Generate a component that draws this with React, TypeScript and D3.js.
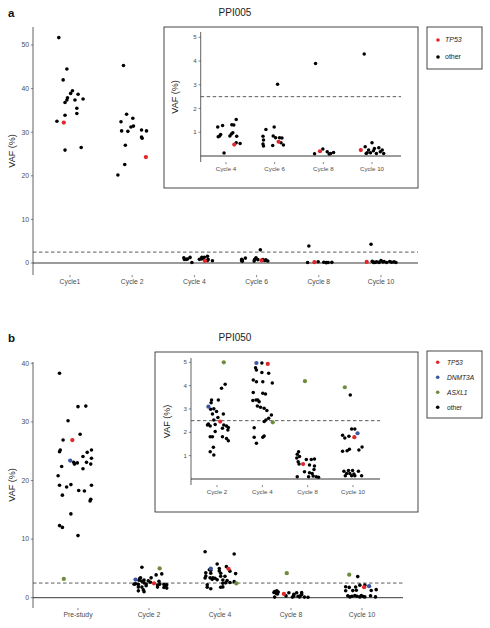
import React from "react";
import * as d3 from "d3";

// ---------- data ----------
// each point: [VAF %, horizontal jitter as fraction of category step, gene]
type Pt = [number, number, string];

const GENES = ["TP53", "DNMT3A", "ASXL1", "other"];
const GENE_COLORS: Record<string, string> = {
  TP53: "#e3262b",
  DNMT3A: "#3b54a3",
  ASXL1: "#6e8c3c",
  other: "#000000",
};

// ---- PPI005 ----
const A_TITLE = "PPI005";
const A_CATS = ["Cycle1", "Cycle 2", "Cycle 4", "Cycle 6", "Cycle 8", "Cycle 10"];
const A_INSET_CATS = ["Cycle 4", "Cycle 6", "Cycle 8", "Cycle 10"];
const A_Y_TICKS = [0, 10, 20, 30, 40, 50];
const A_INSET_Y_TICKS = [1, 2, 3, 4, 5];
const A_LEGEND = ["TP53", "other"];

const A_CYCLE1: Pt[] = [
  [51.7, -0.18, "other"], [44.5, -0.05, "other"], [42.0, -0.11, "other"], [39.5, 0.04, "other"],
  [38.9, 0.01, "other"], [38.7, 0.13, "other"], [37.6, 0.21, "other"], [37.9, -0.04, "other"],
  [37.4, -0.05, "other"], [37.4, 0.08, "other"], [36.8, -0.08, "other"], [35.5, 0.11, "other"],
  [34.3, 0.11, "other"], [33.9, -0.08, "other"], [32.5, -0.21, "other"], [32.2, -0.1, "TP53"],
  [26.5, 0.18, "other"], [25.9, -0.08, "other"],
];
const A_CYCLE2: Pt[] = [
  [45.3, -0.14, "other"], [34.1, -0.09, "other"], [33.2, 0.01, "other"], [32.4, -0.18, "other"],
  [31.2, -0.02, "other"], [31.4, 0.02, "other"], [30.3, -0.17, "other"], [30.2, -0.07, "other"],
  [30.5, 0.15, "other"], [30.3, 0.23, "other"], [28.9, 0.15, "other"], [28.6, 0.16, "other"],
  [27.0, -0.11, "other"], [22.6, -0.12, "other"], [24.3, 0.22, "TP53"], [20.2, -0.23, "other"],
];
const A_CYCLE4: Pt[] = [
  [1.22, -0.17, "other"], [1.29, -0.07, "other"], [1.54, 0.21, "other"], [1.32, 0.12, "other"],
  [1.31, 0.16, "other"], [0.84, -0.13, "other"], [0.81, -0.16, "other"], [0.91, -0.11, "other"],
  [0.84, 0.08, "other"], [0.93, 0.11, "other"], [0.98, 0.14, "other"], [0.83, 0.22, "other"],
  [0.56, 0.21, "other"], [0.53, 0.29, "other"], [0.48, 0.17, "TP53"], [0.13, -0.04, "other"],
];
const A_CYCLE6: Pt[] = [
  [3.02, 0.06, "other"], [1.12, -0.18, "other"], [1.22, -0.01, "other"], [0.83, -0.24, "other"],
  [0.67, -0.23, "other"], [0.51, -0.24, "other"], [0.42, -0.23, "other"], [0.84, -0.03, "other"],
  [0.77, 0.02, "other"], [0.77, 0.1, "other"], [0.76, 0.15, "other"], [0.6, 0.08, "TP53"],
  [0.44, -0.04, "other"], [0.56, 0.13, "other"], [0.46, 0.18, "other"],
];
const A_CYCLE8: Pt[] = [
  [3.9, -0.16, "other"], [0.1, -0.18, "other"], [0.2, -0.07, "TP53"], [0.29, -0.01, "other"],
  [0.18, 0.08, "other"], [0.11, 0.15, "other"], [0.15, 0.21, "other"], [0.08, 0.12, "other"],
];
const A_CYCLE10: Pt[] = [
  [4.3, -0.16, "other"], [0.56, 0.0, "other"], [0.25, -0.23, "TP53"], [0.39, -0.14, "other"],
  [0.25, -0.07, "other"], [0.14, -0.03, "other"], [0.22, 0.03, "other"], [0.11, 0.09, "other"],
  [0.35, 0.14, "other"], [0.25, 0.21, "other"], [0.11, 0.24, "other"], [0.14, -0.1, "other"],
  [0.18, 0.17, "other"], [0.32, 0.05, "other"], [0.11, -0.12, "other"],
];
const A_DATA: Pt[][] = [A_CYCLE1, A_CYCLE2, A_CYCLE4, A_CYCLE6, A_CYCLE8, A_CYCLE10];

// ---- PPI050 ----
const B_TITLE = "PPI050";
const B_CATS = ["Pre-study", "Cycle 2", "Cycle 4", "Cycle 8", "Cycle 10"];
const B_INSET_CATS = ["Cycle 2", "Cycle 4", "Cycle 8", "Cycle 10"];
const B_Y_TICKS = [0, 10, 20, 30, 40];
const B_INSET_Y_TICKS = [1, 2, 3, 4, 5];
const B_LEGEND = ["TP53", "DNMT3A", "ASXL1", "other"];

const B_PRE: Pt[] = [
  [38.3, -0.26, "other"], [30.2, -0.14, "other"], [32.6, 0.0, "other"], [32.7, 0.11, "other"],
  [26.9, -0.21, "other"], [26.9, -0.08, "TP53"], [27.9, 0.03, "other"], [25.2, -0.25, "other"],
  [24.9, -0.26, "other"], [25.2, 0.19, "other"], [24.8, 0.13, "other"], [22.4, -0.23, "other"],
  [23.4, -0.11, "DNMT3A"], [23.1, -0.06, "other"], [23.0, -0.01, "other"], [24.1, 0.07, "other"],
  [23.1, 0.12, "other"], [23.8, 0.19, "other"], [22.8, 0.18, "other"], [22.0, 0.07, "other"],
  [22.8, -0.05, "other"], [20.8, -0.28, "other"], [19.2, -0.26, "other"], [19.3, -0.1, "other"],
  [18.9, -0.16, "other"], [17.5, -0.22, "other"], [18.3, 0.01, "other"], [18.2, 0.09, "other"],
  [19.2, 0.19, "other"], [16.8, 0.18, "other"], [16.5, 0.17, "other"], [14.3, -0.1, "other"],
  [12.3, -0.26, "other"], [12.0, -0.22, "other"], [10.6, 0.0, "other"], [3.2, -0.2, "ASXL1"],
];
const B_CYCLE2: Pt[] = [
  [5.0, 0.15, "ASXL1"], [4.06, 0.18, "other"], [3.89, 0.1, "other"], [3.39, -0.12, "other"],
  [3.27, -0.13, "other"], [3.39, 0.03, "other"], [3.1, -0.19, "DNMT3A"], [2.99, -0.14, "other"],
  [3.01, -0.07, "other"], [2.89, -0.01, "other"], [2.79, -0.1, "other"], [2.79, 0.14, "other"],
  [2.64, 0.02, "other"], [2.46, 0.07, "TP53"], [2.36, -0.19, "other"], [2.31, -0.21, "other"],
  [2.27, -0.15, "other"], [2.34, -0.04, "other"], [2.53, -0.07, "other"], [2.31, 0.15, "other"],
  [2.27, 0.21, "other"], [2.21, 0.25, "other"], [2.17, 0.12, "other"], [2.1, 0.24, "other"],
  [2.04, -0.04, "other"], [1.81, -0.15, "other"], [1.81, -0.1, "other"], [1.81, 0.12, "other"],
  [1.74, 0.21, "other"], [1.64, 0.25, "other"], [1.36, -0.08, "other"], [1.17, -0.15, "other"],
  [1.03, -0.07, "other"], [5.2, -0.1, "other"],
];
const B_CYCLE4: Pt[] = [
  [4.97, -0.13, "DNMT3A"], [4.97, -0.01, "other"], [4.93, 0.12, "TP53"], [4.77, -0.15, "other"],
  [4.67, -0.13, "other"], [4.56, -0.01, "other"], [4.53, 0.14, "other"], [4.24, -0.2, "other"],
  [4.17, -0.13, "other"], [4.17, 0.01, "other"], [4.11, 0.22, "other"], [3.71, -0.2, "other"],
  [3.67, 0.01, "other"], [3.64, 0.07, "other"], [3.39, -0.14, "other"], [3.39, -0.1, "other"],
  [3.31, -0.07, "other"], [3.36, -0.21, "other"], [3.07, -0.04, "other"], [3.13, -0.11, "other"],
  [3.03, 0.04, "other"], [2.93, 0.1, "other"], [2.6, 0.14, "other"], [2.74, 0.2, "other"],
  [2.53, 0.08, "other"], [2.46, 0.04, "other"], [2.43, 0.23, "ASXL1"], [2.2, -0.18, "other"],
  [1.79, -0.18, "other"], [1.84, 0.04, "other"], [1.79, 0.01, "other"], [1.53, -0.13, "other"],
  [7.85, -0.21, "other"], [7.45, 0.2, "other"], [5.75, -0.04, "other"], [5.3, 0.09, "other"],
];
const B_CYCLE8: Pt[] = [
  [4.19, -0.06, "ASXL1"], [1.17, -0.2, "other"], [1.06, -0.23, "other"], [0.96, -0.18, "other"],
  [0.9, -0.24, "other"], [0.64, -0.1, "TP53"], [0.74, -0.21, "other"], [0.84, -0.03, "other"],
  [0.84, 0.08, "other"], [0.86, 0.15, "other"], [0.64, -0.19, "other"], [0.6, 0.04, "other"],
  [0.56, 0.15, "other"], [0.31, -0.07, "other"], [0.27, 0.04, "other"], [0.24, 0.1, "other"],
  [0.41, 0.14, "other"], [0.1, -0.23, "other"], [0.1, 0.02, "other"], [0.13, 0.12, "other"],
  [0.1, 0.19, "other"], [0.07, 0.24, "other"],
];
const B_CYCLE10: Pt[] = [
  [3.93, -0.18, "ASXL1"], [3.6, -0.06, "other"], [1.96, 0.1, "DNMT3A"], [1.79, 0.03, "TP53"],
  [2.14, -0.03, "other"], [2.14, 0.04, "other"], [1.87, -0.23, "other"], [1.76, -0.18, "other"],
  [1.83, -0.09, "other"], [1.19, -0.23, "other"], [1.21, -0.13, "other"], [1.27, -0.08, "other"],
  [1.24, 0.13, "other"], [1.37, 0.2, "other"], [0.33, -0.2, "other"], [0.24, -0.14, "other"],
  [0.36, -0.1, "other"], [0.24, -0.07, "other"], [0.36, -0.01, "other"], [0.21, 0.02, "other"],
  [0.14, -0.17, "other"], [0.14, -0.03, "other"], [0.14, 0.04, "other"], [0.33, 0.12, "other"],
  [0.14, 0.19, "other"],
];
const B_DATA: Pt[][] = [B_PRE, B_CYCLE2, B_CYCLE4, B_CYCLE8, B_CYCLE10];

const THRESHOLD = 2.5;
const INSET_MAX = 5;

// ---------- drawing ----------
const FONT = "'Liberation Sans', Arial, Helvetica, sans-serif";
const TICK_COL = "#4d4d4d";
const LINE_COL = "#3a3a3a";

type PanelProps = {
  cats: string[];
  groups: { cat: string; pts: Pt[] }[];
  yDomain: [number, number];
  yRange: [number, number];
  xRange: [number, number];
  axisX: number;
  axisTop: number;
  axisBottom: number;
  lineEnd: number;
  yTicks: number[];
  tickFont: number;
  labelFont: number;
  labelX: number;
  r: number;
};

function Panel(p: PanelProps) {
  const y = d3.scaleLinear().domain(p.yDomain).range(p.yRange);
  const x = d3.scalePoint<string>().domain(p.cats).range(p.xRange);
  const step = x.step();
  const all: { cx: number; cy: number; g: string }[] = [];
  p.groups.forEach(({ cat, pts }) => {
    pts.forEach(([v, j, g]) => {
      all.push({ cx: (x(cat) as number) + j * step, cy: y(v), g });
    });
  });
  const ordered = [...all.filter((d) => d.g === "other"), ...all.filter((d) => d.g !== "other")];
  const midY = (p.axisTop + p.axisBottom) / 2;
  return (
    <g fontFamily={FONT}>
      <line x1={p.axisX} x2={p.axisX} y1={p.axisTop} y2={p.axisBottom} stroke={LINE_COL} strokeWidth={0.8} />
      {p.yTicks.map((t) => (
        <g key={t}>
          <line x1={p.axisX - 2.2} x2={p.axisX} y1={y(t)} y2={y(t)} stroke={LINE_COL} strokeWidth={0.6} />
          <text x={p.axisX - 4} y={y(t)} dy="0.35em" textAnchor="end" fontSize={p.tickFont} fill={TICK_COL}>
            {t}
          </text>
        </g>
      ))}
      {p.cats.map((c) => (
        <g key={c}>
          <line x1={x(c)} x2={x(c)} y1={p.axisBottom} y2={p.axisBottom + 2.2} stroke={LINE_COL} strokeWidth={0.6} />
          <text x={x(c)} y={p.axisBottom + 4} dy="0.75em" textAnchor="middle" fontSize={p.tickFont} fill={TICK_COL}>
            {c}
          </text>
        </g>
      ))}
      <text
        transform={`translate(${p.labelX},${midY}) rotate(-90)`}
        textAnchor="middle"
        dy="0.35em"
        fontSize={p.labelFont}
        fill="#222"
      >
        VAF (%)
      </text>
      <line x1={p.axisX} x2={p.lineEnd} y1={y(0)} y2={y(0)} stroke="#222" strokeWidth={0.9} />
      <line
        x1={p.axisX}
        x2={p.lineEnd}
        y1={y(THRESHOLD)}
        y2={y(THRESHOLD)}
        stroke="#333"
        strokeWidth={0.8}
        strokeDasharray="3.5,2.5"
      />
      {ordered.map((d, i) => (
        <circle key={i} cx={d.cx} cy={d.cy} r={d.g === "other" ? p.r : p.r + 0.35} fill={GENE_COLORS[d.g]} />
      ))}
    </g>
  );
}

function Legend({ x, y, w, h, items, rowY, dotX, textX, fs }: any) {
  return (
    <g fontFamily={FONT}>
      <rect x={x} y={y} width={w} height={h} fill="white" stroke="#333" strokeWidth={0.9} />
      {items.map((g: string, i: number) => (
        <g key={g}>
          <circle cx={dotX} cy={rowY[i]} r={1.8} fill={GENE_COLORS[g]} />
          <text
            x={textX}
            y={rowY[i]}
            dy="0.35em"
            fontSize={fs}
            fontStyle={g === "other" ? "normal" : "italic"}
            fill="#222"
          >
            {g}
          </text>
        </g>
      ))}
    </g>
  );
}

export default function App() {
  const aMain = A_CATS.map((c, i) => ({ cat: c, pts: A_DATA[i] }));
  const aInset = A_INSET_CATS.map((c) => ({
    cat: c,
    pts: A_DATA[A_CATS.indexOf(c)].filter((d) => d[0] <= INSET_MAX),
  }));
  const bMain = B_CATS.map((c, i) => ({ cat: c, pts: B_DATA[i] }));
  const bInset = B_INSET_CATS.map((c) => ({
    cat: c,
    pts: B_DATA[B_CATS.indexOf(c)].filter((d) => d[0] <= INSET_MAX),
  }));

  return (
    <svg
      width={490}
      height={628}
      style={{ position: "absolute", left: 0, top: 0, background: "white" }}
    >
      <rect x={0} y={0} width={490} height={628} fill="white" />
      {/* ---------- panel a ---------- */}
      <text x={8} y={17} fontFamily={FONT} fontWeight="bold" fontSize={11.5} fill="#111">a</text>
      <text x={235} y={12} dy="0.35em" textAnchor="middle" fontFamily={FONT} fontSize={10} fill="#222">
        {A_TITLE}
      </text>
      <Panel
        cats={A_CATS}
        groups={aMain}
        yDomain={[0, 50]}
        yRange={[263, 45]}
        xRange={[70, 381]}
        axisX={33}
        axisTop={27}
        axisBottom={275}
        lineEnd={418}
        yTicks={A_Y_TICKS}
        tickFont={6.8}
        labelFont={9}
        labelX={12}
        r={1.8}
      />
      <rect x={164} y={27} width={254} height={161} fill="white" stroke="#333" strokeWidth={0.9} />
      <Panel
        cats={A_INSET_CATS}
        groups={aInset}
        yDomain={[0, 5]}
        yRange={[156, 37.3]}
        xRange={[226, 372]}
        axisX={200.7}
        axisTop={32}
        axisBottom={162}
        lineEnd={401}
        yTicks={A_INSET_Y_TICKS}
        tickFont={6.2}
        labelFont={9}
        labelX={175}
        r={1.75}
      />
      <Legend x={427} y={27} w={55} h={42} items={A_LEGEND} rowY={[40, 57]} dotX={438} textX={445} fs={7} />

      {/* ---------- panel b ---------- */}
      <text x={8} y={341.5} fontFamily={FONT} fontWeight="bold" fontSize={11.5} fill="#111">b</text>
      <text x={235} y={337} dy="0.35em" textAnchor="middle" fontFamily={FONT} fontSize={10} fill="#222">
        {B_TITLE}
      </text>
      <Panel
        cats={B_CATS}
        groups={bMain}
        yDomain={[0, 40]}
        yRange={[597.7, 363.3]}
        xRange={[78, 362]}
        axisX={33}
        axisTop={362}
        axisBottom={608}
        lineEnd={403}
        yTicks={B_Y_TICKS}
        tickFont={6.8}
        labelFont={9}
        labelX={12}
        r={1.8}
      />
      <rect x={155} y={352} width={263} height={160} fill="white" stroke="#333" strokeWidth={0.9} />
      <Panel
        cats={B_INSET_CATS}
        groups={bInset}
        yDomain={[0, 5]}
        yRange={[479, 362.3]}
        xRange={[217, 353]}
        axisX={191}
        axisTop={358}
        axisBottom={485}
        lineEnd={380}
        yTicks={B_INSET_Y_TICKS}
        tickFont={6.2}
        labelFont={9}
        labelX={166.7}
        r={1.75}
      />
      <Legend
        x={427}
        y={351}
        w={55}
        h={67}
        items={B_LEGEND}
        rowY={[362.3, 377.3, 392.3, 407.3]}
        dotX={437.7}
        textX={447}
        fs={6.6}
      />
    </svg>
  );
}
